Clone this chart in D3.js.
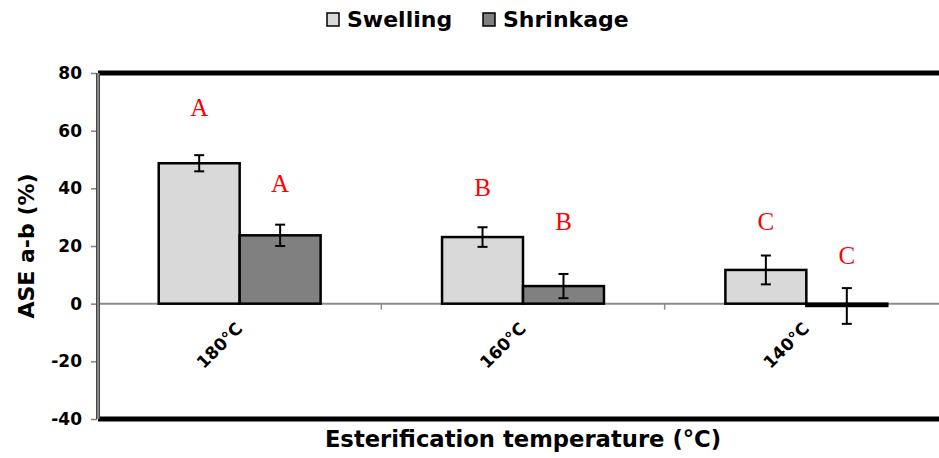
<!DOCTYPE html>
<html>
<head>
<meta charset="utf-8">
<script src="https://cdn.jsdelivr.net/npm/d3@7"></script>
<style>
  body { margin: 0; background: #fff; }
  text { font-family: "DejaVu Sans", Arial, sans-serif; }
</style>
</head>
<body>
<div id="mount"></div>
<script>
'use strict';

// data
const categories = ['180°C', '160°C', '140°C'];
const series = ['Swelling', 'Shrinkage'];
const swelling = [48.7, 23.1, 11.7];
const shrinkage = [23.7, 6.1, -0.8];
const swellingErr = [2.8, 3.4, 5.0];
const shrinkageErr = [3.7, 4.2, 6.2];
const letters = [['A', 'A'], ['B', 'B'], ['C', 'C']];
// height (in % units) at which each significance letter sits
const letterLevels = [[68.2, 41.8], [40.4, 28.6], [28.6, 16.9]];
const yTicks = [-40, -20, 0, 20, 40, 60, 80];

const colors = { Swelling: '#d9d9d9', Shrinkage: '#808080' };

const W = 939, H = 458;
const plot = { left: 98, right: 948, top: 73, bottom: 419 };

const svg = d3.select('#mount').append('svg')
    .attr('width', W)
    .attr('height', H);

const y = d3.scaleLinear().domain([-40, 80]).range([plot.bottom, plot.top]);
const x0 = d3.scaleBand().domain(categories).range([plot.left, plot.right]);
const bw = x0.bandwidth();
const barW = bw / 3.5;   // excel-ish gap width of 150%
const x1 = d3.scaleBand().domain(series).range([barW * 0.75, bw - barW * 0.75]);

const rows = categories.map((c, i) => ({
  cat: c,
  vals: [
    { s: 'Swelling', v: swelling[i], e: swellingErr[i], l: letters[i][0], ly: letterLevels[i][0] },
    { s: 'Shrinkage', v: shrinkage[i], e: shrinkageErr[i], l: letters[i][1], ly: letterLevels[i][1] }
  ]
}));

// y axis ticks + labels (plain hyphen for negatives, like the original)
const yAxis = svg.append('g')
    .attr('transform', `translate(${plot.left - 1},0)`)
    .call(d3.axisLeft(y).tickValues(yTicks).tickFormat(d => String(d)).tickSize(6).tickPadding(9));
yAxis.select('.domain').remove();
yAxis.selectAll('.tick line').attr('stroke', '#808080').attr('stroke-width', 1.5);
yAxis.selectAll('.tick text')
    .attr('font-size', 17)
    .attr('font-weight', 'bold')
    .attr('fill', '#000')
    .style('font-family', '"DejaVu Sans", Arial, sans-serif');

// zero line and category separators
svg.append('line')
    .attr('x1', plot.left).attr('x2', plot.right)
    .attr('y1', y(0)).attr('y2', y(0))
    .attr('stroke', '#8c8c8c').attr('stroke-width', 2);

svg.selectAll('.sep')
    .data(categories.slice(1))
  .enter().append('line')
    .attr('x1', d => x0(d)).attr('x2', d => x0(d))
    .attr('y1', y(0)).attr('y2', y(0) + 6)
    .attr('stroke', '#8c8c8c').attr('stroke-width', 1.5);

// bars
const groups = svg.selectAll('.grp')
    .data(rows)
  .enter().append('g')
    .attr('transform', d => `translate(${x0(d.cat)},0)`);

groups.selectAll('rect')
    .data(d => d.vals)
  .enter().append('rect')
    .attr('x', d => x1(d.s))
    .attr('width', x1.bandwidth())
    .attr('y', d => y(Math.max(0, d.v)))
    .attr('height', d => Math.abs(y(d.v) - y(0)))
    .attr('fill', d => colors[d.s])
    .attr('stroke', '#000')
    .attr('stroke-width', 2.5);

// error bars
const err = groups.selectAll('.err')
    .data(d => d.vals)
  .enter().append('g')
    .attr('stroke', '#000')
    .attr('stroke-width', 2);
err.append('line')
    .attr('x1', d => x1(d.s) + x1.bandwidth() / 2)
    .attr('x2', d => x1(d.s) + x1.bandwidth() / 2)
    .attr('y1', d => y(d.v + d.e))
    .attr('y2', d => y(d.v - d.e));
err.selectAll('.cap')
    .data(d => [d.v + d.e, d.v - d.e].map(v => ({ s: d.s, v })))
  .enter().append('line')
    .attr('x1', d => x1(d.s) + x1.bandwidth() / 2 - 5)
    .attr('x2', d => x1(d.s) + x1.bandwidth() / 2 + 5)
    .attr('y1', d => y(d.v))
    .attr('y2', d => y(d.v));

// significance letters
groups.selectAll('.letter')
    .data(d => d.vals)
  .enter().append('text')
    .attr('x', d => x1(d.s) + x1.bandwidth() / 2)
    .attr('y', d => y(d.ly))
    .attr('dy', '0.35em')
    .attr('text-anchor', 'middle')
    .attr('fill', '#ff0000')
    .attr('font-size', 25)
    .style('font-family', '"Liberation Serif", "Times New Roman", serif')
    .text(d => d.l);

// category labels, rotated
svg.selectAll('.cat')
    .data(categories)
  .enter().append('text')
    .attr('transform', d => `translate(${x0(d) + bw / 2 + 4},${y(0) + 26}) rotate(-45)`)
    .attr('text-anchor', 'end')
    .attr('font-size', 17)
    .attr('font-weight', 'bold')
    .text(d => d);

// plot frame: thick top/bottom, grey left axis
svg.append('line')
    .attr('x1', plot.left).attr('x2', plot.right)
    .attr('y1', plot.top).attr('y2', plot.top)
    .attr('stroke', '#000').attr('stroke-width', 5);
svg.append('line')
    .attr('x1', plot.left).attr('x2', plot.right)
    .attr('y1', plot.bottom).attr('y2', plot.bottom)
    .attr('stroke', '#000').attr('stroke-width', 5);
svg.append('line')
    .attr('x1', plot.left).attr('x2', plot.left)
    .attr('y1', plot.top).attr('y2', plot.bottom)
    .attr('stroke', '#444').attr('stroke-width', 4);
svg.append('line')
    .attr('x1', plot.left).attr('x2', plot.left)
    .attr('y1', plot.top).attr('y2', plot.bottom)
    .attr('stroke', '#a0a0a0').attr('stroke-width', 1.5);

// axis titles
svg.append('text')
    .attr('transform', `translate(34,${(plot.top + plot.bottom) / 2}) rotate(-90)`)
    .attr('text-anchor', 'middle')
    .attr('font-size', 22)
    .attr('font-weight', 'bold')
    .text('ASE a-b (%)');

svg.append('text')
    .attr('x', 523)
    .attr('y', 447)
    .attr('text-anchor', 'middle')
    .attr('font-size', 22.7)
    .attr('font-weight', 'bold')
    .text('Esterification temperature (°C)');

// legend
const legend = svg.selectAll('.leg')
    .data(series)
  .enter().append('g')
    .attr('transform', (d, i) => `translate(${[327, 483][i]},13)`);
legend.append('rect')
    .attr('width', 12).attr('height', 13)
    .attr('fill', d => colors[d])
    .attr('stroke', '#000').attr('stroke-width', 1.5);
legend.append('text')
    .attr('x', 20)
    .attr('y', 6.5)
    .attr('dy', '0.36em')
    .attr('font-size', 22)
    .attr('font-weight', 'bold')
    .text(d => d);
</script>
</body>
</html>
